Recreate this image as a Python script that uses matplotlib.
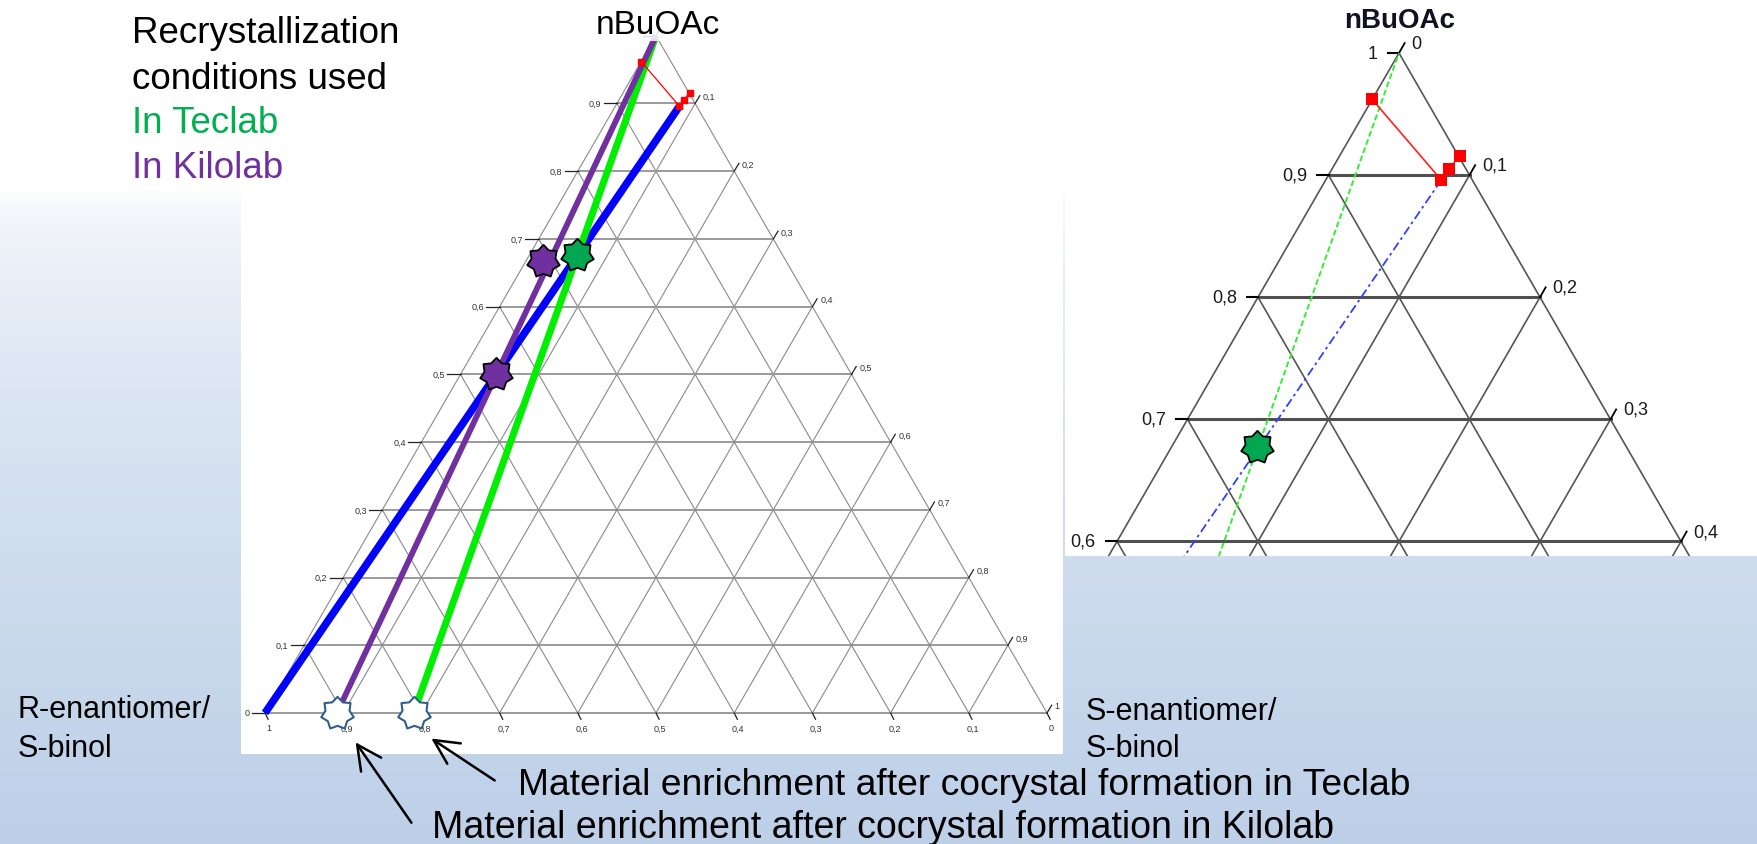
import numpy as np
import matplotlib
matplotlib.use("Agg")
import matplotlib.pyplot as plt
from matplotlib.path import Path
from matplotlib.patches import FancyArrowPatch

plt.rcParams["font.family"] = ["Liberation Sans", "DejaVu Sans"]

W, H = 1758, 845
SQ = np.sqrt(3) / 2

# ---- data: compositions as (nBuOAc fraction, S-enantiomer fraction) ----
grid_levels = [0.1, 0.2, 0.3, 0.4, 0.5, 0.6, 0.7, 0.8, 0.9]
tick_values = [0.0, 0.1, 0.2, 0.3, 0.4, 0.5, 0.6, 0.7, 0.8, 0.9, 1.0]
tick_labels = ["0", "0,1", "0,2", "0,3", "0,4", "0,5", "0,6", "0,7", "0,8", "0,9", "1"]

# solubility line of the R-rich cocrystal (blue)
sol_nbuoac = [0.0, 0.896]
sol_s = [0.0, 0.082]

# tie points near the solvent corner (red)
red_nbuoac = [0.962, 0.896, 0.905, 0.916]
red_s = [0.0, 0.082, 0.083, 0.085]

# dilution lines from enriched material to pure solvent
teclab_nbuoac = [0.0, 1.0]
teclab_s = [0.19, 0.0]
kilolab_nbuoac = [0.0, 1.0]
kilolab_s = [0.092, 0.0]

# recrystallization points
teclab_pt_nbuoac = [0.677]
teclab_pt_s = [0.061]
kilolab_pt_nbuoac = [0.668, 0.50]
kilolab_pt_s = [0.022, 0.045]

# enriched material after cocrystal formation (on the binary axis)
enriched_nbuoac = [0.0, 0.0]
enriched_s = [0.092, 0.19]

GREEN_TXT = "#00b050"
PURPLE = "#7030a0"
STAR_GREEN = "#00a650"


def xy(b, s):
    b = np.asarray(b, dtype=float)
    s = np.asarray(s, dtype=float)
    return s + b / 2, b * SQ


def fx(px):
    return px / W


def fy(py):
    return 1 - py / H


def star_path(n=7, inner=0.74):
    ang = np.pi / 2 + np.arange(2 * n) * np.pi / n
    rad = np.where(np.arange(2 * n) % 2 == 0, 1.0, inner)
    v = np.column_stack([rad * np.cos(ang), rad * np.sin(ang)])
    v = np.vstack([v, v[:1]])
    codes = [Path.MOVETO] + [Path.LINETO] * (2 * n - 1) + [Path.CLOSEPOLY]
    return Path(v, codes)


STAR = star_path()

fig = plt.figure(figsize=(W / 100, H / 100), dpi=100)

# ---- slide background: white fading into light blue ----
ax_bg = fig.add_axes([0, 0, 1, 1])
rows = np.arange(H)
t = np.clip((rows - 190) / (H - 190), 0, 1) ** 0.55
top = np.array([1.0, 1.0, 1.0])
bot = np.array([189, 208, 232]) / 255
grad = top[None, :] * (1 - t[:, None]) + bot[None, :] * t[:, None]
ax_bg.imshow(grad[:, None, :], aspect="auto", extent=(0, W, H, 0))
ax_bg.set_xlim(0, W)
ax_bg.set_ylim(H, 0)
ax_bg.axis("off")


def make_axes(box, xlim, ylim):
    x0, y0, x1, y1 = box
    ax = fig.add_axes([fx(x0), fy(y1), (x1 - x0) / W, (y1 - y0) / H])
    ax.set_facecolor("white")
    ax.set_xlim(*xlim)
    ax.set_ylim(*ylim)
    ax.set_xticks([])
    ax.set_yticks([])
    for sp in ax.spines.values():
        sp.set_visible(False)
    return ax


def draw_grid(ax, hcol, hlw, dcol, dlw):
    for lv in grid_levels:
        ax.plot(*xy([lv, lv], [0, 1 - lv]), color=hcol, lw=hlw, zorder=1)
        ax.plot(*xy([0, 1 - lv], [lv, lv]), color=dcol, lw=dlw, zorder=1)
        ax.plot(*xy([0, 1 - lv], [1 - lv, 0]), color=dcol, lw=dlw, zorder=1)
    ax.plot(*xy([0, 0], [0, 1]), color=hcol, lw=hlw, zorder=1)
    ax.plot(*xy([0, 1], [0, 0]), color=dcol, lw=dlw, zorder=1)
    ax.plot(*xy([0, 1], [1, 0]), color=dcol, lw=dlw, zorder=1)


# ================= left: full ternary diagram =================
L_SIDE = 782.0
axL = make_axes((241, 0, 1063, 755),
                ((241 - 265) / L_SIDE, (1063 - 265) / L_SIDE),
                (-(755 - 714) / L_SIDE, 714 / L_SIDE))
draw_grid(axL, "#9a9a9a", 1.4, "#8a8a8a", 0.8)

lab_kw = dict(fontsize=6.5, color="#333333", clip_on=False, zorder=2)
for v, lab in zip(tick_values, tick_labels):
    # left side: nBuOAc fraction (apex value sits under the title)
    x0, y0 = xy(v, 0)
    axL.plot([x0 - 0.017, x0], [y0, y0], color="#222222", lw=0.9, zorder=2)
    if v < 1.0:
        axL.text(x0 - 0.02, y0, lab, ha="right", va="center", **lab_kw)
    # right side
    x1, y1 = xy(1 - v, v)
    axL.plot([x1, x1 + 0.006], [y1, y1 + 0.010], color="#222222", lw=0.9, zorder=2)
    if v > 0.0:
        axL.text(x1 + 0.010, y1 + 0.009, lab, ha="left", va="center", **lab_kw)
    # bottom axis (read from right to left)
    xb, yb = xy(0, 1 - v)
    axL.plot([xb, xb + 0.004], [yb, yb - 0.008], color="#222222", lw=0.9, zorder=2)
    axL.text(xb + 0.005, yb - 0.019, lab, ha="center", va="center", **lab_kw)

axL.plot(*xy(teclab_nbuoac, teclab_s), color="#00ee00", lw=5, zorder=4,
         solid_capstyle="butt")
axL.plot(*xy(sol_nbuoac, sol_s), color="#0000ff", lw=5.5, zorder=3,
         solid_capstyle="butt")
axL.plot(*xy(kilolab_nbuoac, kilolab_s), color=PURPLE, lw=4.2, zorder=5,
         solid_capstyle="butt")
axL.plot(*xy(red_nbuoac, red_s), color="#ff0000", lw=0.9, marker="s",
         markersize=5, zorder=6)
axL.plot(*xy(enriched_nbuoac, enriched_s), ls="none", marker=STAR,
         markersize=24, markerfacecolor="white", markeredgecolor="#2f5f8f",
         markeredgewidth=1.5, zorder=7, clip_on=False)
axL.plot(*xy(teclab_pt_nbuoac, teclab_pt_s), ls="none", marker=STAR,
         markersize=24, markerfacecolor=STAR_GREEN, markeredgecolor="black",
         markeredgewidth=1.3, zorder=8)
axL.plot(*xy(kilolab_pt_nbuoac, kilolab_pt_s), ls="none", marker=STAR,
         markersize=24, markerfacecolor=PURPLE, markeredgecolor="black",
         markeredgewidth=1.3, zorder=8)

fig.text(fx(658), fy(34), "nBuOAc", fontsize=24, ha="center", va="baseline",
         color="black", zorder=5,
         bbox=dict(facecolor="white", edgecolor="none", alpha=0.85, pad=1))

# ================= right: enlarged solvent corner =================
R_SIDE = 1410.0
apx, apy = 1399, 54
axR = make_axes((1065, 0, 1758, 557),
                (0.5 + (1065 - apx) / R_SIDE, 0.5 + (1758 - apx) / R_SIDE),
                (SQ - (557 - apy) / R_SIDE, SQ + apy / R_SIDE))
draw_grid(axR, "#505050", 2.2, "#555555", 1.2)

rlab_kw = dict(fontsize=13, color="#1a1a1a", zorder=2)
for v, lab in zip(tick_values, tick_labels):
    if v < 0.55:
        continue
    x0, y0 = xy(v, 0)
    axR.plot([x0 - 0.008, x0], [y0, y0], color="black", lw=1.5, zorder=2)
    axR.text(x0 - 0.015, y0, lab, ha="right", va="center", **rlab_kw)
    x1, y1 = xy(v, 1 - v)
    axR.plot([x1, x1 + 0.004], [y1, y1 + 0.007], color="black", lw=1.3, zorder=2)
    axR.text(x1 + 0.009, y1 + 0.007, tick_labels[10 - tick_labels.index(lab)],
             ha="left", va="center", **rlab_kw)

axR.plot(*xy(teclab_nbuoac, teclab_s), color="#33ee33", lw=1.4,
         dashes=(3, 1.5), zorder=3)
axR.plot(*xy(sol_nbuoac, sol_s), color="#3040ff", lw=1.3,
         dashes=(5, 2, 1.5, 2), zorder=3)
axR.plot(*xy(red_nbuoac, red_s), color="#ff2020", lw=1.2, marker="s",
         markersize=8, markeredgewidth=0, markerfacecolor="#ff0000", zorder=5)
axR.plot(*xy(teclab_pt_nbuoac, teclab_pt_s), ls="none", marker=STAR,
         markersize=24, markerfacecolor=STAR_GREEN, markeredgecolor="black",
         markeredgewidth=1.3, zorder=6)

fig.text(fx(1400), fy(28), "nBuOAc", fontsize=20, fontweight="bold",
         ha="center", va="baseline", color="#111122", zorder=5)

# ================= slide texts =================
fig.text(fx(132), fy(43), "Recrystallization", fontsize=26.5, va="baseline",
         color="black")
fig.text(fx(132), fy(89), "conditions used", fontsize=26.5, va="baseline",
         color="black")
fig.text(fx(132), fy(133), "In Teclab", fontsize=26.5, va="baseline",
         color=GREEN_TXT)
fig.text(fx(132), fy(178), "In Kilolab", fontsize=26.5, va="baseline",
         color=PURPLE)

fig.text(fx(18), fy(718), "R-enantiomer/", fontsize=22, va="baseline")
fig.text(fx(18), fy(757), "S-binol", fontsize=22, va="baseline")
fig.text(fx(1086), fy(720), "S-enantiomer/", fontsize=22, va="baseline")
fig.text(fx(1086), fy(757), "S-binol", fontsize=22, va="baseline")

fig.text(fx(518), fy(795),
         "Material enrichment after cocrystal formation in Teclab",
         fontsize=26.8, va="baseline", zorder=5)
fig.text(fx(432), fy(838),
         "Material enrichment after cocrystal formation in Kilolab",
         fontsize=27, va="baseline", zorder=5)

for tail, head in [((497, 783), (429, 738)), ((413, 826), (354, 741))]:
    arr = FancyArrowPatch((fx(tail[0]), fy(tail[1])), (fx(head[0]), fy(head[1])),
                          transform=fig.transFigure,
                          arrowstyle="->,head_length=0.8,head_width=0.4",
                          mutation_scale=22, lw=1.8, color="black", zorder=6)
    fig.add_artist(arr)

fig.savefig("out.png", dpi=100)
